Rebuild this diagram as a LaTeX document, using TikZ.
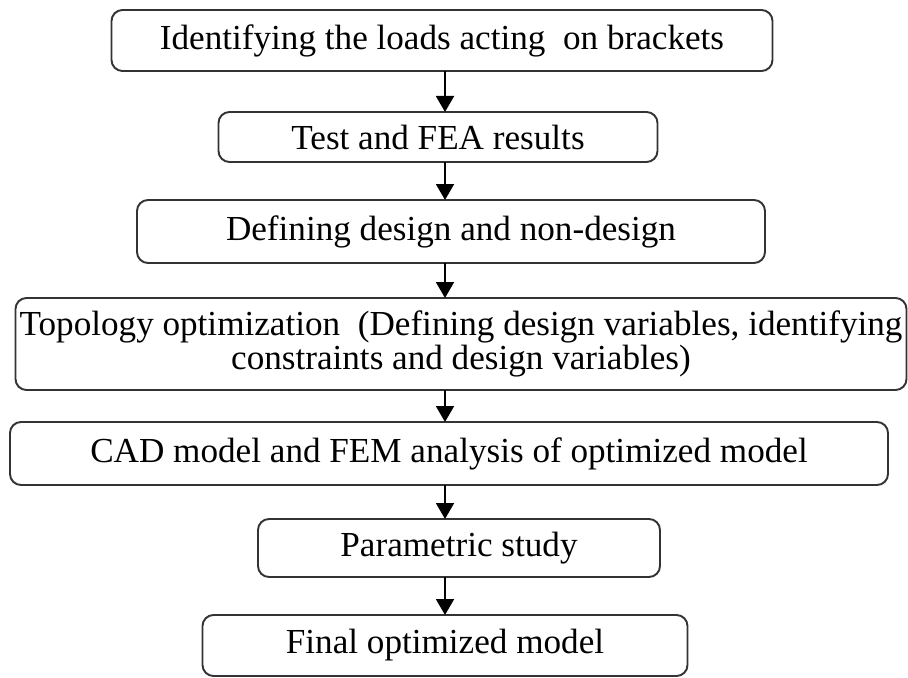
\documentclass[tikz,border=0pt]{standalone}
\usepackage{fontspec}
\setmainfont{Liberation Serif}
\usetikzlibrary{arrows.meta,positioning}

\begin{document}
\begin{tikzpicture}[
  >={Triangle[width=0.36cm,length=0.32cm]},
  stage/.style={draw=black!80, line width=1.1pt, rounded corners=0.22cm, inner sep=0pt, outer sep=0pt,
    align=center, font=\fontsize{20}{17.5}\selectfont},
  node distance=0.7cm,
  ]
  \useasboundingbox (0,0) rectangle (18.16,-13.54);

  \node[stage, minimum width=13.22cm, minimum height=1.22cm] (loads) at (8.84,-0.81) {Identifying the loads acting~ on brackets};
  \node[stage, below = 0.82 of loads, xshift=-0.08cm, minimum width=8.78cm, minimum height=1.0cm] (test) {Test and FEA results};
  \node[stage, below = 0.76 of test, xshift=0.26cm, minimum width=12.56cm, minimum height=1.26cm] (nondesign) {Defining design and non-design};
  \node[stage, below = 0.70 of nondesign, xshift=0.2cm, minimum width=17.82cm, minimum height=1.84cm] (topo) {Topology optimization~ (Defining design variables, identifying\\constraints and design variables)};
  \node[stage, below = 0.64 of topo, xshift=-0.24cm, minimum width=17.56cm, minimum height=1.26cm] (cad) {CAD model and FEM analysis of optimized model};
  \node[stage, below = 0.68 of cad, xshift=0.2cm, minimum width=8.04cm, minimum height=1.16cm] (param) {Parametric study};
  \node[stage, below = 0.76 of param, xshift=-0.28cm, minimum width=9.7cm, minimum height=1.22cm] (final) {Final optimized model};

  % all arrows run down one vertical line
  \coordinate (ax) at ([xshift=0.06cm]loads.south);
  \draw [->, line width=1.1pt] (loads.south -| ax) -- (test.north -| ax);
  \draw [->, line width=1.1pt] (test.south -| ax) -- (nondesign.north -| ax);
  \draw [->, line width=1.1pt] (nondesign.south -| ax) -- (topo.north -| ax);
  \draw [->, line width=1.1pt] (topo.south -| ax) -- (cad.north -| ax);
  \draw [->, line width=1.1pt] (cad.south -| ax) -- (param.north -| ax);
  \draw [->, line width=1.1pt] (param.south -| ax) -- (final.north -| ax);

\end{tikzpicture}
\end{document}
